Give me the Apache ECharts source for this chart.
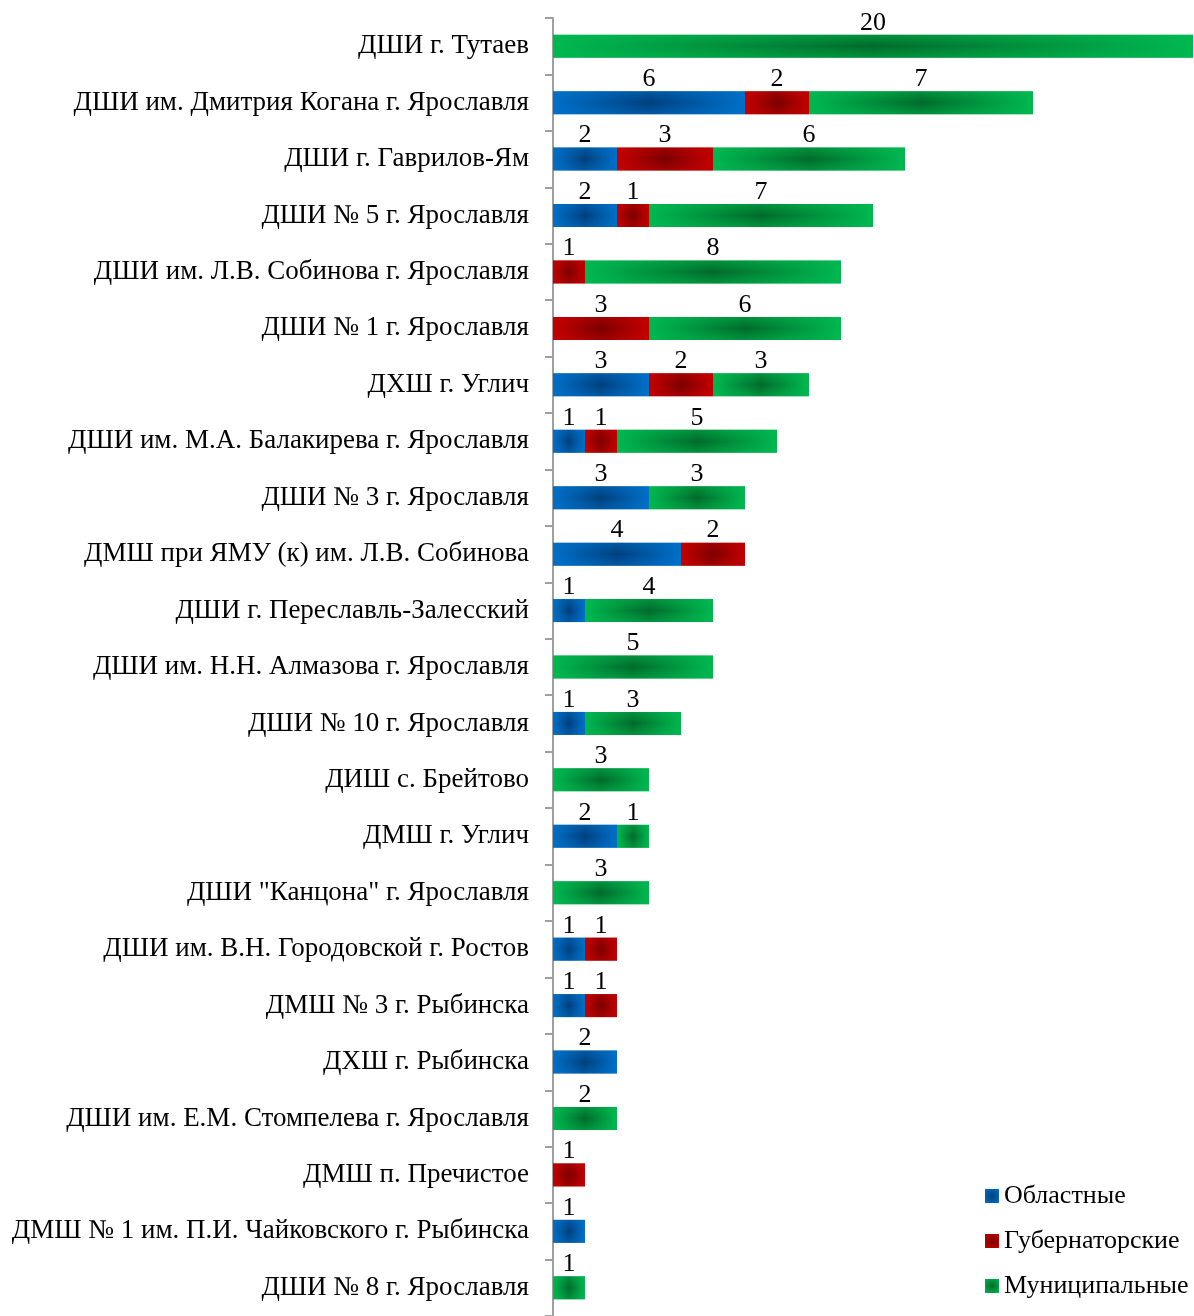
<!DOCTYPE html>
<html lang="ru">
<head>
    <meta charset="UTF-8">
    <title>Школы</title>
    <script src="https://cdn.jsdelivr.net/npm/echarts@6/dist/echarts.min.js"></script>
    <style>
        html, body { margin: 0; padding: 0; background: #fff; }
        #chart { width: 1194px; height: 1316px; }
    </style>
</head>
<body>
<div id="chart"></div>
<script>
    // категории сверху вниз
    var schools = [
        'ДШИ г. Тутаев',
        'ДШИ им. Дмитрия Когана г. Ярославля',
        'ДШИ г. Гаврилов-Ям',
        'ДШИ № 5 г. Ярославля',
        'ДШИ им. Л.В. Собинова г. Ярославля',
        'ДШИ № 1 г. Ярославля',
        'ДХШ г. Углич',
        'ДШИ им. М.А. Балакирева г. Ярославля',
        'ДШИ № 3 г. Ярославля',
        'ДМШ при ЯМУ (к) им. Л.В. Собинова',
        'ДШИ г. Переславль-Залесский',
        'ДШИ им. Н.Н. Алмазова г. Ярославля',
        'ДШИ № 10 г. Ярославля',
        'ДИШ с. Брейтово',
        'ДМШ г. Углич',
        'ДШИ "Канцона" г. Ярославля',
        'ДШИ им. В.Н. Городовской г. Ростов',
        'ДМШ № 3 г. Рыбинска',
        'ДХШ г. Рыбинска',
        'ДШИ им. Е.М. Стомпелева г. Ярославля',
        'ДМШ п. Пречистое',
        'ДМШ № 1 им. П.И. Чайковского г. Рыбинска',
        'ДШИ № 8 г. Ярославля'
    ];
    var oblastnye   = [null, 6, 2, 2, null, null, 3, 1, 3, 4, 1, null, 1, null, 2, null, 1, 1, 2, null, null, 1, null];
    var gubernator  = [null, 2, 3, 1, 1, 3, 2, 1, null, 2, null, null, null, null, null, null, 1, 1, null, null, 1, null, null];
    var municipal   = [20, 7, 6, 7, 8, 6, 3, 5, 3, null, 4, 5, 3, 3, 1, 3, null, null, null, 2, null, null, 1];

    var fontName = '"Liberation Serif", "Times New Roman", serif';

    var blue  = ['#0070c8', '#003f7c'];
    var red   = ['#c40000', '#7a0000'];
    var green = ['#00b850', '#006a2a'];

    // светлый край - тёмный центр - светлый край (по горизонтали)
    function hgrad(c) {
        return {
            type: 'linear', x: 0, y: 0, x2: 1, y2: 0,
            colorStops: [
                {offset: 0, color: c[0]},
                {offset: 0.5, color: c[1]},
                {offset: 1, color: c[0]}
            ]
        };
    }
    // поверх - чуть светлее верх и низ
    function vgrad(c) {
        return {
            type: 'linear', x: 0, y: 0, x2: 0, y2: 1,
            colorStops: [
                {offset: 0, color: echarts.color.modifyAlpha(c[0], 0.5)},
                {offset: 0.5, color: echarts.color.modifyAlpha(c[0], 0)},
                {offset: 1, color: echarts.color.modifyAlpha(c[0], 0.5)}
            ]
        };
    }
    function rgrad(c) {
        return {
            type: 'radial', x: 0.5, y: 0.5, r: 0.7,
            colorStops: [
                {offset: 0, color: c[1]},
                {offset: 1, color: c[0]}
            ]
        };
    }

    function makeSeries(name, data, c) {
        return {
            name: name,
            type: 'bar',
            stack: 'all',
            barWidth: 23,
            barGap: '-100%',
            data: data,
            itemStyle: {color: hgrad(c)},
            label: {
                show: true,
                position: 'top',
                distance: -1,
                color: '#000',
                fontFamily: fontName,
                fontSize: 26
            }
        };
    }
    function makeOverlay(name, data, c) {
        return {
            name: name,
            type: 'bar',
            stack: 'over',
            barWidth: 23,
            barGap: '-100%',
            silent: true,
            data: data,
            itemStyle: {color: vgrad(c)},
            label: {show: false}
        };
    }

    var myChart = echarts.init(document.getElementById('chart'));
    var option = {
        animation: false,
        backgroundColor: '#fff',
        grid: {left: 553, top: 18, height: 1302, right: 1, containLabel: false},
        legend: {
            orient: 'vertical',
            left: 985,
            top: 1183,
            padding: 0,
            itemWidth: 14,
            itemHeight: 14,
            itemGap: 19,
            icon: 'rect',
            textStyle: {fontFamily: fontName, fontSize: 26, color: '#000'},
            data: [
                {name: 'Областные', itemStyle: {color: rgrad(blue)}},
                {name: 'Губернаторские', itemStyle: {color: rgrad(red)}},
                {name: 'Муниципальные', itemStyle: {color: rgrad(green)}}
            ]
        },
        xAxis: {
            type: 'value',
            min: 0,
            max: 20,
            show: false
        },
        yAxis: {
            type: 'category',
            inverse: true,
            data: schools,
            axisLine: {show: true, lineStyle: {color: '#a0a0a0', width: 2}},
            axisTick: {show: true, length: 8, lineStyle: {color: '#a0a0a0', width: 2}},
            axisLabel: {
                color: '#000',
                fontFamily: fontName,
                fontSize: 27,
                margin: 24,
                padding: [4, 0, 0, 0],
                interval: 0
            },
            splitLine: {show: false}
        },
        series: [
            makeSeries('Областные', oblastnye, blue),
            makeSeries('Губернаторские', gubernator, red),
            makeSeries('Муниципальные', municipal, green),
            makeOverlay('o1', oblastnye, blue),
            makeOverlay('o2', gubernator, red),
            makeOverlay('o3', municipal, green)
        ]
    };
    myChart.setOption(option);
</script>
</body>
</html>
